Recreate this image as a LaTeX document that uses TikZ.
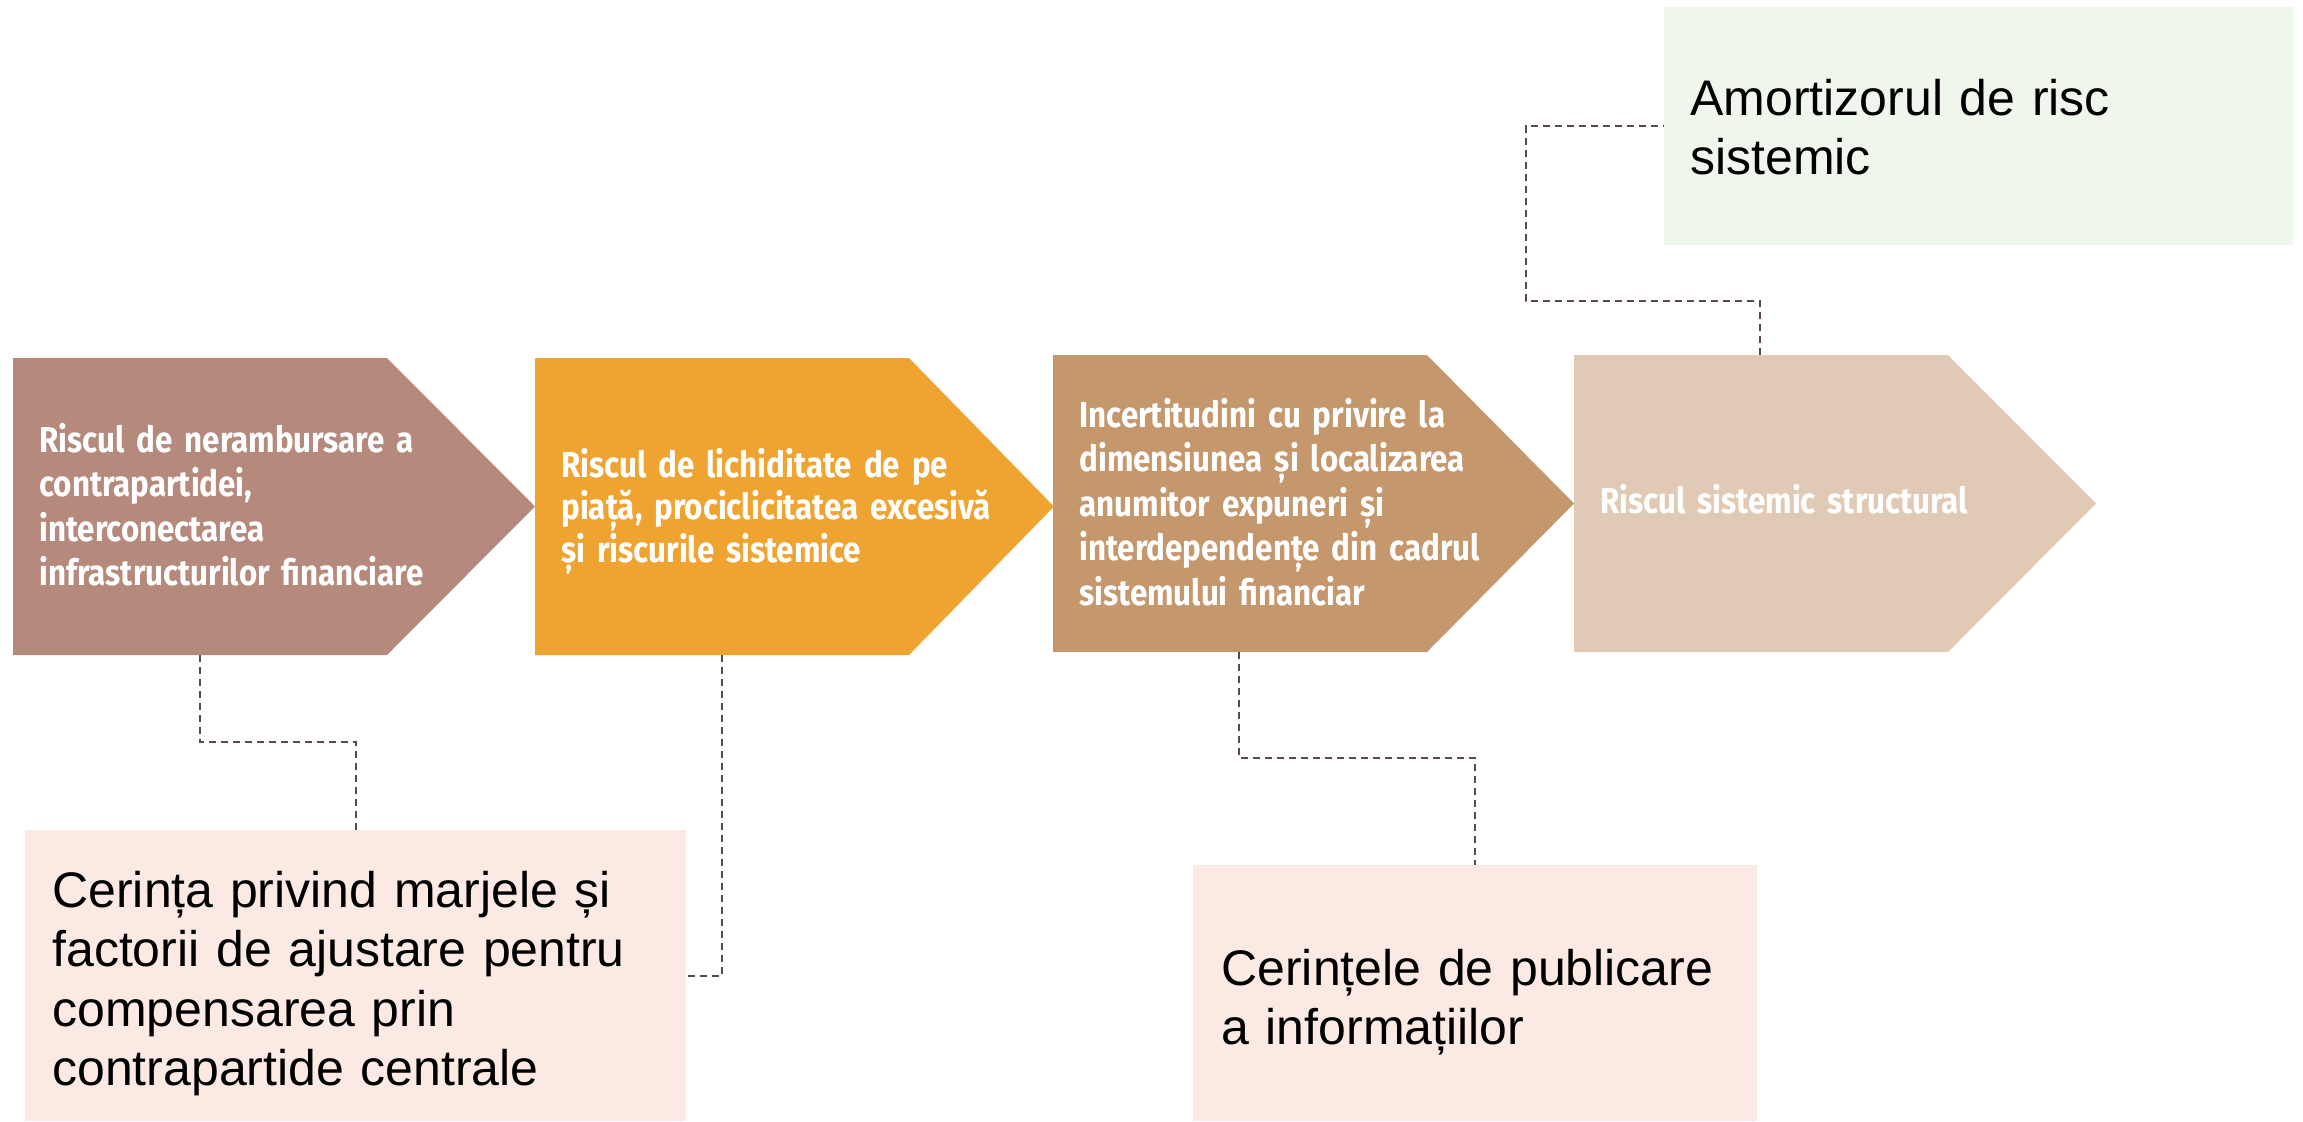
\documentclass[tikz,border=0pt]{standalone}
\usepackage{fontspec}
\setmainfont{Liberation Sans}
\newfontfamily\chevfont[FakeStretch=0.87]{Fira Sans}
\usepackage{tikz}
\definecolor{riscA}{HTML}{B58A7D}
\definecolor{riscB}{HTML}{EFA431}
\definecolor{riscC}{HTML}{C4976D}
\definecolor{riscD}{HTML}{E1CAB5}
\definecolor{boxpink}{HTML}{FBE9E3}
\definecolor{boxgreen}{HTML}{EFF6EC}
\definecolor{linkcol}{HTML}{5B4A42}
\begin{document}
\begin{tikzpicture}[x=0.5pt,y=-0.5pt,
    chevtext/.style={anchor=base west, inner sep=0pt, text=white, align=left, text width=250pt, font=\chevfont\bfseries\fontsize{18}{22.3}\selectfont},
    measure/.style={anchor=north west, inner sep=0pt},
    measuretext/.style={anchor=base west, inner sep=0pt, align=left, text width=300pt, font=\fontsize{25}{29.5}\selectfont},
    link/.style={draw=linkcol, line width=1pt, dash pattern=on 3.5pt off 2.5pt}]
    \useasboundingbox (0,0) rectangle (2303,1121);
    \fill[riscA] (13,358) -- (387,358) -- (535,506.5) -- (387,655) -- (13,655) -- cycle;
    \fill[riscB] (535,358) -- (909,358) -- (1054,506.5) -- (909,655) -- (535,655) -- cycle;
    \fill[riscC] (1053,355) -- (1427,355) -- (1574,503.5) -- (1427,652) -- (1053,652) -- cycle;
    \fill[riscD] (1574,355) -- (1948,355) -- (2096,503.5) -- (1948,652) -- (1574,652) -- cycle;
    \node[chevtext] (nerambursare) at (39,452) {Riscul de nerambursare a\\contrapartidei,\\interconectarea\\infrastructurilor financiare};
    \node[chevtext, font=\chevfont\bfseries\fontsize{18}{21.3}\selectfont] (lichiditate) at (561,477) {Riscul de lichiditate de pe\\piață, prociclicitatea excesivă\\și riscurile sistemice};
    \node[chevtext] (incertitudini) at (1079,427) {Incertitudini cu privire la\\dimensiunea și localizarea\\anumitor expuneri și\\interdependențe din cadrul\\sistemului financiar};
    \node[chevtext] (structural) at (1600,513) {Riscul sistemic structural};
    \node[measure, fill=boxpink, minimum width=330.5pt, minimum height=145.5pt] (marje) at (25,830) {};
    \node[measure, fill=boxpink, minimum width=282pt, minimum height=128pt] (publicare) at (1193,865) {};
    \node[measure, fill=boxgreen, minimum width=314.5pt, minimum height=119pt] (amortizor) at (1664,7) {};
    \node[measuretext, font=\fontsize{25}{29.75}\selectfont] (marjetext) at (52,907) {Cerința privind marjele și\\factorii de ajustare pentru\\compensarea prin\\contrapartide centrale};
    \node[measuretext] (publicaretext) at (1221,985) {Cerințele de publicare\\a informațiilor};
    \node[measuretext] (amortizortext) at (1690,115) {Amortizorul de risc\\sistemic};
    \coordinate (k1) at (200,655);
    \coordinate (k2) at (722,655);
    \coordinate (k3) at (1239,652);
    \coordinate (k4) at (1760,355);
    \draw[link] (k1) -- ++(0,87) -| (marje.north);
    \draw[link] (k2) |- (marje.east);
    \draw[link] (k3) -- ++(0,106) -| (publicare.north);
    \draw[link] (k4) -- ++(0,-54) -- ++(-234,0) |- (amortizor.west);
\end{tikzpicture}
\end{document}
